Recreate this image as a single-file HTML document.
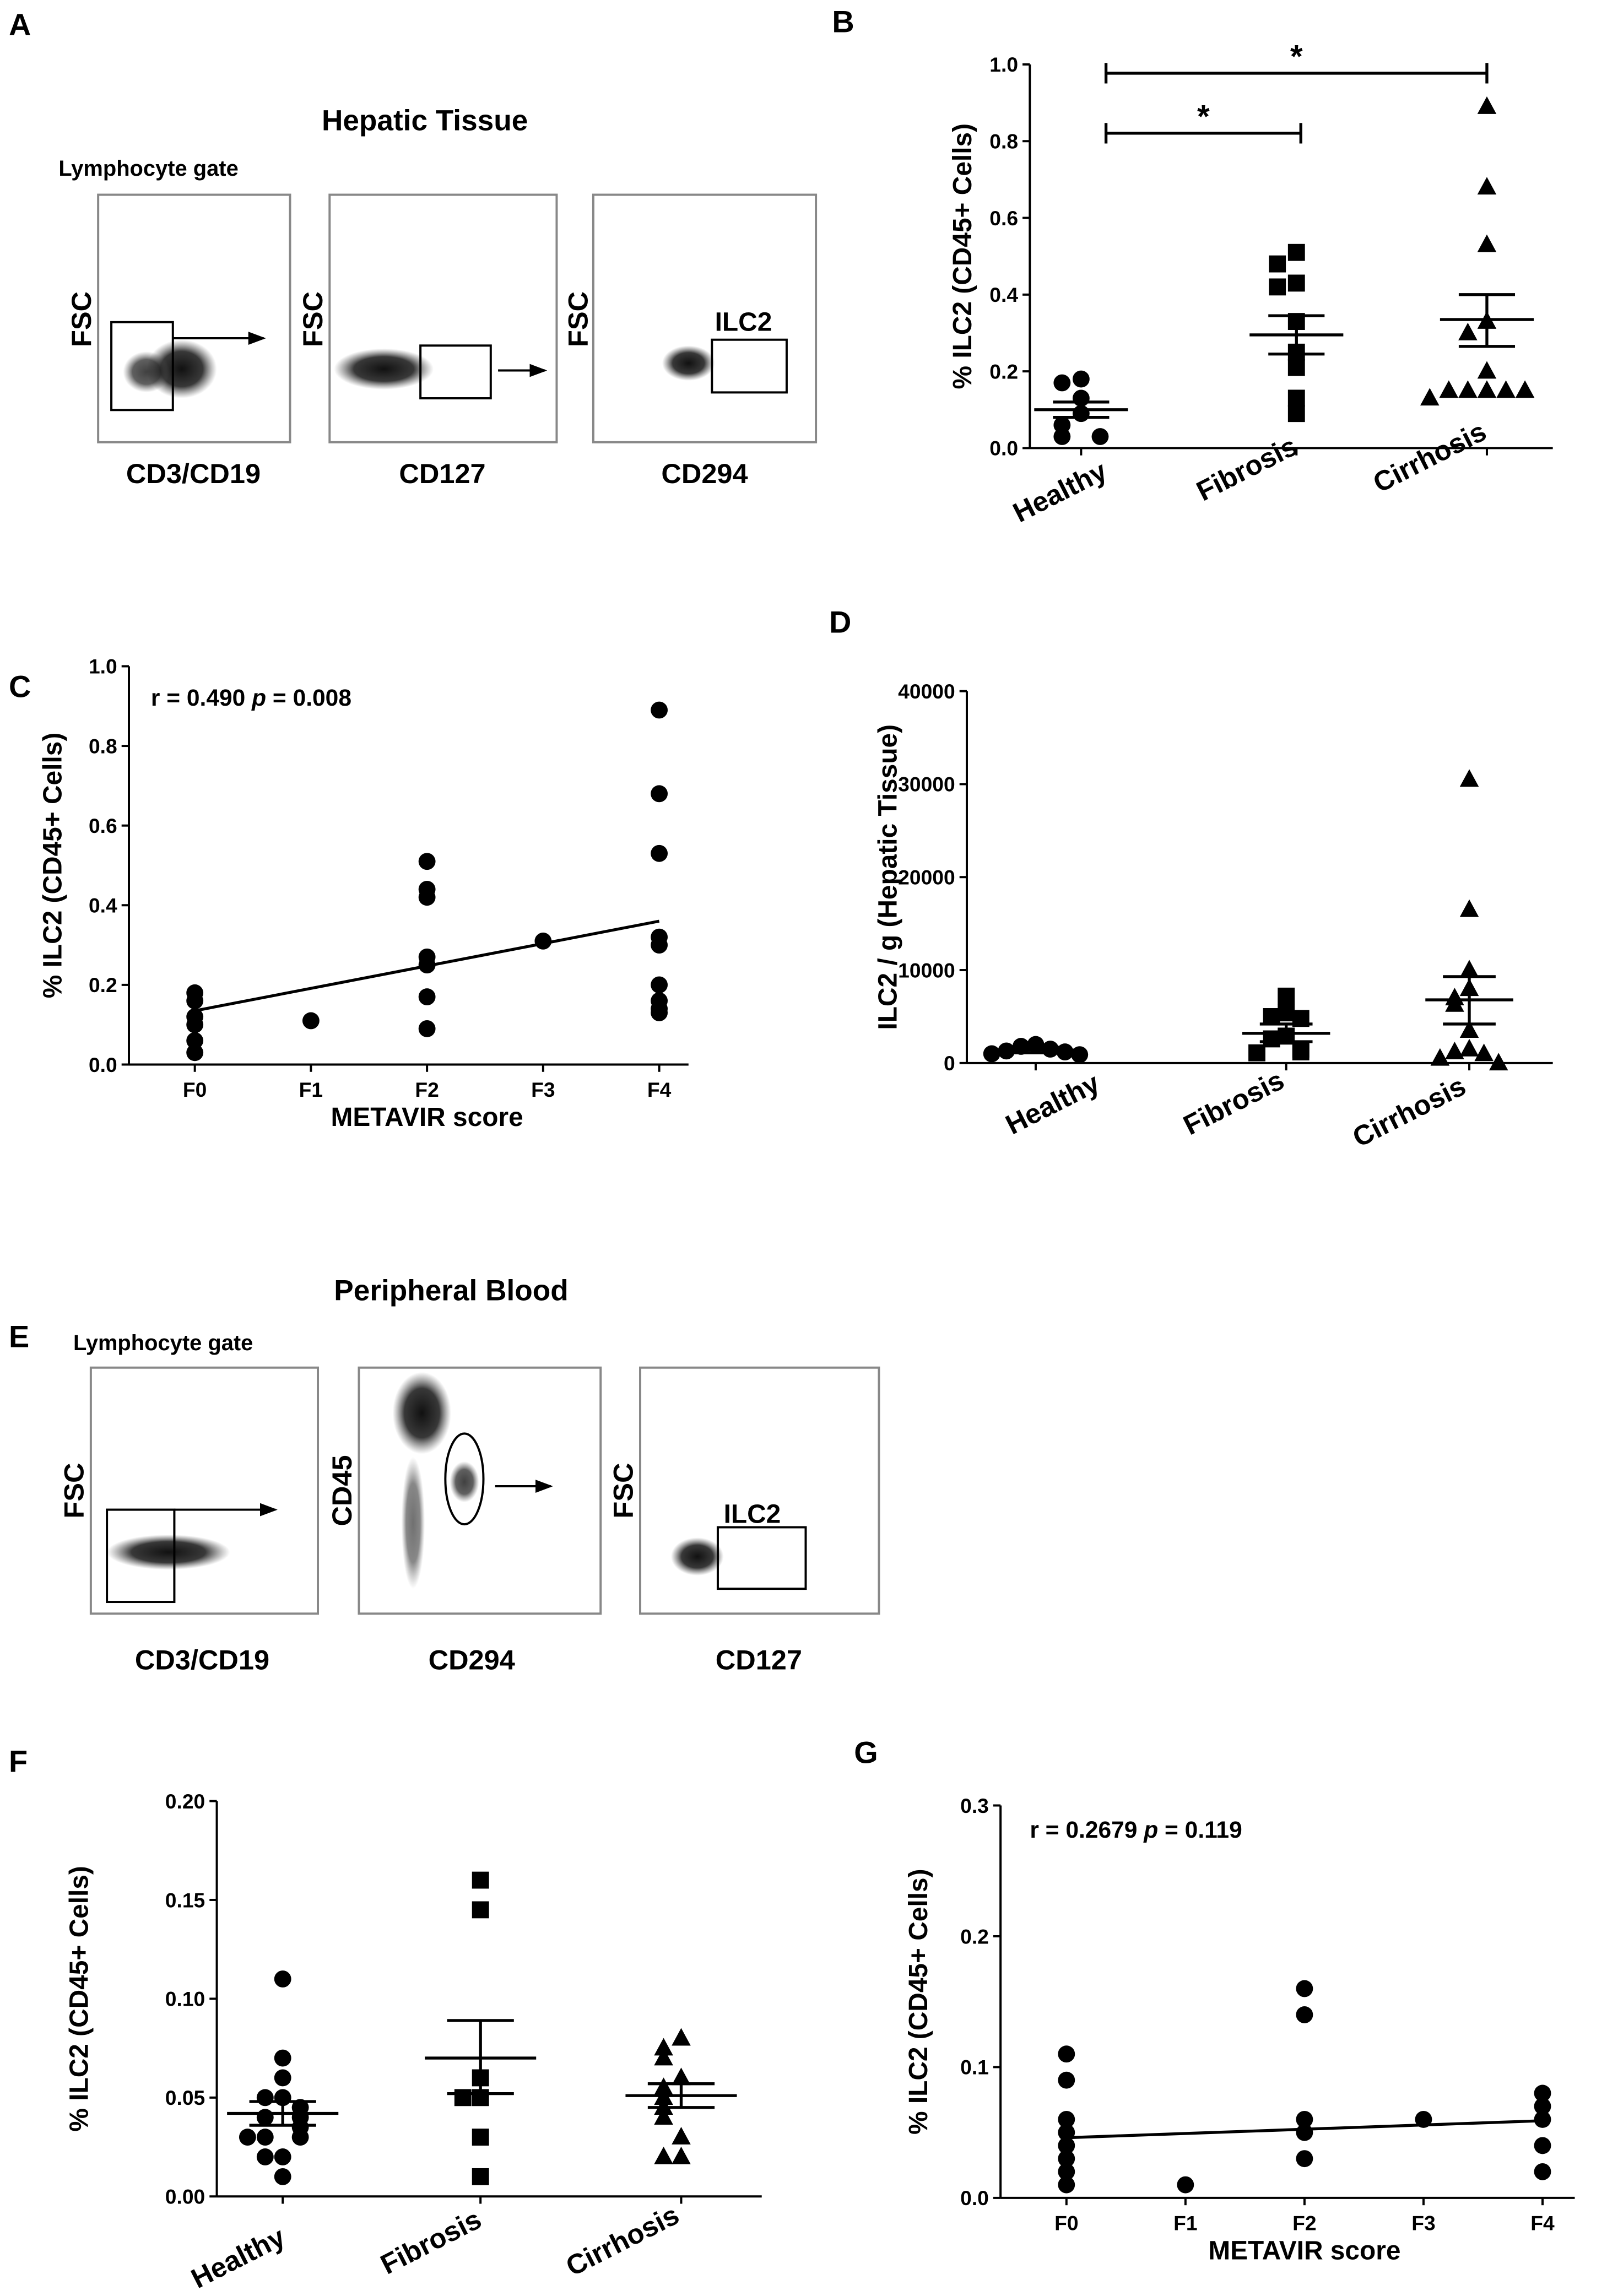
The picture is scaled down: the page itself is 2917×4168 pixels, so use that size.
<!DOCTYPE html>
<html><head><meta charset="utf-8"><style>
html,body{margin:0;padding:0;background:#fff;}
svg{display:block;font-family:"Liberation Sans",Arial,sans-serif;font-weight:bold;}
</style></head><body>
<svg id="fig" width="2917" height="4168" viewBox="0 0 1097 1568" preserveAspectRatio="none" xmlns="http://www.w3.org/2000/svg">
<defs>
<radialGradient id="blob"><stop offset="0" stop-color="#111"/><stop offset="0.6" stop-color="#222" stop-opacity="0.9"/><stop offset="1" stop-color="#555" stop-opacity="0"/></radialGradient>
<marker id="arr" markerWidth="8" markerHeight="8" refX="7" refY="4" orient="auto"><path d="M0,1 L8,4 L0,7 z" fill="#000"/></marker>
</defs>
<text x="6" y="24" font-size="21">A</text>
<text x="568" y="22" font-size="21">B</text>
<text x="6" y="476" font-size="21">C</text>
<text x="566" y="432" font-size="21">D</text>
<text x="6" y="920" font-size="21">E</text>
<text x="6" y="1210" font-size="21">F</text>
<text x="583" y="1204" font-size="21">G</text>

<g>
<text x="290" y="89" font-size="20" text-anchor="middle">Hepatic Tissue</text>
<text x="40" y="120" font-size="15">Lymphocyte  gate</text>
<rect x="67" y="133" width="131" height="169" fill="none" stroke="#888" stroke-width="1.5"/>
<rect x="225" y="133" width="155" height="169" fill="none" stroke="#888" stroke-width="1.5"/>
<rect x="405" y="133" width="152" height="169" fill="none" stroke="#888" stroke-width="1.5"/>
<ellipse cx="124" cy="252" rx="24" ry="20" fill="url(#blob)"/>
<ellipse cx="100" cy="254" rx="16" ry="14" fill="url(#blob)" opacity="0.8"/>
<rect x="76" y="220" width="42" height="60" fill="none" stroke="#000" stroke-width="1.5"/>
<line x1="118" y1="231" x2="180" y2="231" stroke="#000" stroke-width="1.5" marker-end="url(#arr)"/>
<ellipse cx="262" cy="252" rx="34" ry="14" fill="url(#blob)"/>
<rect x="287" y="236" width="48" height="36" fill="none" stroke="#000" stroke-width="1.5"/>
<line x1="340" y1="253" x2="372" y2="253" stroke="#000" stroke-width="1.5" marker-end="url(#arr)"/>
<ellipse cx="470" cy="248" rx="18" ry="12" fill="url(#blob)"/>
<rect x="486" y="232" width="51" height="36" fill="none" stroke="#000" stroke-width="1.5"/>
<text x="488" y="226" font-size="18">ILC2</text>
<text transform="translate(62,218) rotate(-90)" font-size="19" text-anchor="middle">FSC</text>
<text transform="translate(220,218) rotate(-90)" font-size="19" text-anchor="middle">FSC</text>
<text transform="translate(401,218) rotate(-90)" font-size="19" text-anchor="middle">FSC</text>
<text x="132" y="330" font-size="19" text-anchor="middle">CD3/CD19</text>
<text x="302" y="330" font-size="19" text-anchor="middle">CD127</text>
<text x="481" y="330" font-size="19" text-anchor="middle">CD294</text>
</g>

<g>
<text x="308" y="888" font-size="20" text-anchor="middle">Peripheral Blood</text>
<text x="50" y="922" font-size="15">Lymphocyte  gate</text>
<rect x="62" y="934" width="155" height="168" fill="none" stroke="#888" stroke-width="1.5"/>
<rect x="245" y="934" width="165" height="168" fill="none" stroke="#888" stroke-width="1.5"/>
<rect x="437" y="934" width="163" height="168" fill="none" stroke="#888" stroke-width="1.5"/>
<ellipse cx="115" cy="1060" rx="42" ry="12" fill="url(#blob)"/>
<rect x="73" y="1031" width="46" height="63" fill="none" stroke="#000" stroke-width="1.5"/>
<line x1="119" y1="1031" x2="188" y2="1031" stroke="#000" stroke-width="1.5" marker-end="url(#arr)"/>
<ellipse cx="288" cy="965" rx="20" ry="28" fill="url(#blob)"/>
<ellipse cx="282" cy="1040" rx="8" ry="45" fill="url(#blob)" opacity="0.6"/>
<ellipse cx="317" cy="1012" rx="10" ry="14" fill="url(#blob)" opacity="0.8"/>
<ellipse cx="317" cy="1010" rx="13" ry="31" fill="none" stroke="#000" stroke-width="1.5"/>
<line x1="338" y1="1015" x2="376" y2="1015" stroke="#000" stroke-width="1.5" marker-end="url(#arr)"/>
<ellipse cx="476" cy="1063" rx="18" ry="13" fill="url(#blob)"/>
<rect x="490" y="1043" width="60" height="42" fill="none" stroke="#000" stroke-width="1.5"/>
<text x="494" y="1040" font-size="18">ILC2</text>
<text transform="translate(57,1018) rotate(-90)" font-size="19" text-anchor="middle">FSC</text>
<text transform="translate(240,1018) rotate(-90)" font-size="19" text-anchor="middle">CD45</text>
<text transform="translate(432,1018) rotate(-90)" font-size="19" text-anchor="middle">FSC</text>
<text x="138" y="1140" font-size="19" text-anchor="middle">CD3/CD19</text>
<text x="322" y="1140" font-size="19" text-anchor="middle">CD294</text>
<text x="518" y="1140" font-size="19" text-anchor="middle">CD127</text>
</g>
<g id="charts"></g>
</svg>
<script>
const catsGroups = ["Healthy","Fibrosis","Cirrhosis"];
const metavirCats = ["F0","F1","F2","F3","F4"];
const bHealthy = [0.18,0.17,0.13,0.09,0.06,0.03,0.03];
const bFibrosis = [0.51,0.48,0.43,0.42,0.33,0.25,0.21,0.13,0.09];
const bCirrhosis = [0.89,0.68,0.53,0.33,0.30,0.20,0.15,0.15,0.15,0.15,0.15,0.13];
const bMeans = [0.10,0.295,0.335];
const bSemLo = [0.08,0.245,0.265];
const bSemHi = [0.12,0.345,0.40];
const bTicks = ["0.0","0.2","0.4","0.6","0.8","1.0"];
const cF0 = [0.18,0.16,0.12,0.10,0.06,0.03];
const cF1 = [0.11];
const cF2 = [0.51,0.44,0.42,0.27,0.25,0.17,0.09];
const cF3 = [0.31];
const cF4 = [0.89,0.68,0.53,0.32,0.30,0.20,0.16,0.14,0.13];
const cFit = [0.135,0.36];
const dHealthy = [2000,1800,1500,1300,1200,1000,900];
const dFibrosis = [7200,5400,5000,4800,2900,2600,1500,1200,1100];
const dCirrhosis = [30500,16500,10000,8000,7000,6300,3500,1500,1200,1000,500,0];
const dMeans = [1400,3200,6800];
const dSemLo = [1100,2300,4200];
const dSemHi = [1700,4200,9300];
const dTicks = ["0","10000","20000","30000","40000"];
const fHealthy = [0.11,0.07,0.06,0.05,0.05,0.045,0.04,0.04,0.035,0.03,0.03,0.03,0.02,0.02,0.01];
const fFibrosis = [0.16,0.145,0.06,0.05,0.05,0.03,0.01];
const fCirrhosis = [0.08,0.075,0.07,0.06,0.055,0.05,0.045,0.04,0.03,0.02,0.02];
const fMeans = [0.042,0.070,0.051];
const fSemLo = [0.036,0.052,0.045];
const fSemHi = [0.048,0.089,0.057];
const fTicks = ["0.00","0.05","0.10","0.15","0.20"];
const gF0 = [0.11,0.09,0.06,0.05,0.04,0.03,0.02,0.01];
const gF1 = [0.01];
const gF2 = [0.16,0.14,0.06,0.05,0.03];
const gF3 = [0.06];
const gF4 = [0.08,0.07,0.06,0.04,0.02];
const gFit = [0.046,0.059];
const gTicks = ["0.0","0.1","0.2","0.3"];

const NS="http://www.w3.org/2000/svg";
const root=document.getElementById('charts');
function mk(tag,attrs,parent){const e=document.createElementNS(NS,tag);for(const k in attrs)e.setAttribute(k,attrs[k]);(parent||root).appendChild(e);return e;}
function txt(x,y,s,size,anchor,parent,rot){const t=mk('text',{x:x,y:y,'font-size':size,'text-anchor':anchor||'start'},parent);if(rot)t.setAttribute('transform',`rotate(${rot},${x},${y})`);t.textContent=s;return t;}
function marker(shape,x,y,g){
  let e;
  if(shape==='c')e=mk('circle',{cx:x,cy:y,r:5.8,fill:'#000'},g);
  else if(shape==='s')e=mk('rect',{x:x-5.8,y:y-5.8,width:11.6,height:11.6,fill:'#000'},g);
  else e=mk('path',{d:`M${x},${y-7} L${x+6.5},${y+5} L${x-6.5},${y+5} Z`,fill:'#000'},g);
  
  
}
function spread(vals,cx,ys,width){
  const out=[];const used=[];
  vals.forEach((v)=>{
    const py=ys(v);let k=0;
    used.forEach(u=>{if(Math.abs(u-py)<10)k++;});
    used.push(py);
    const off=(k%2===0?1:-1)*Math.ceil(k/2)*width;
    out.push([cx+off,py]);
  });
  return out;
}
function yAxis(g,x,y0,y1,ticks,label,lx){
  mk('line',{x1:x,y1:y0,x2:x,y2:y1,stroke:'#000','stroke-width':1.5},g);
  ticks.forEach((t,i)=>{const y=y0-(y0-y1)*i/(ticks.length-1);
    mk('line',{x1:x-5,y1:y,x2:x,y2:y,stroke:'#000','stroke-width':1.5},g);
    txt(x-8,y+5,t,14,'end',g);});
  const yl=txt(lx,(y0+y1)/2,label,18,'middle',g,-90);
  
  
}
function groupPanel(name,cfg){
  const g=mk('g',{});
  
  
  const ys=v=>cfg.y0-(cfg.y0-cfg.y1)*v/cfg.vmax;
  yAxis(g,cfg.x,cfg.y0,cfg.y1,cfg.ticks,cfg.ylabel,cfg.lx);
  mk('line',{x1:cfg.x,y1:cfg.y0,x2:cfg.xend,y2:cfg.y0,stroke:'#000','stroke-width':1.5},g);
  cfg.series.forEach((s,i)=>{
    const cx=cfg.cx[i];
    mk('line',{x1:cx,y1:cfg.y0,x2:cx,y2:cfg.y0+5,stroke:'#000','stroke-width':1.5},g);
    const lab=txt(cfg.labEnd[i][0],cfg.labEnd[i][1],catsGroups[i],19,'end',g,-27);
    
    
    spread(s,cx,ys,cfg.spw).forEach(p=>marker(cfg.shapes[i],p[0],p[1],g));
    const m=mk('line',{x1:cx-cfg.mw,y1:ys(cfg.means[i]),x2:cx+cfg.mw,y2:ys(cfg.means[i]),stroke:'#000','stroke-width':2},g);
    
    
    mk('line',{x1:cx,y1:ys(cfg.lo[i]),x2:cx,y2:ys(cfg.hi[i]),stroke:'#000','stroke-width':2},g);
    mk('line',{x1:cx-cfg.mw*0.6,y1:ys(cfg.lo[i]),x2:cx+cfg.mw*0.6,y2:ys(cfg.lo[i]),stroke:'#000','stroke-width':2},g);
    mk('line',{x1:cx-cfg.mw*0.6,y1:ys(cfg.hi[i]),x2:cx+cfg.mw*0.6,y2:ys(cfg.hi[i]),stroke:'#000','stroke-width':2},g);
  });
  return g;
}
function scatterPanel(name,cfg){
  const g=mk('g',{});
  
  
  const ys=v=>cfg.y0-(cfg.y0-cfg.y1)*v/cfg.vmax;
  yAxis(g,cfg.x,cfg.y0,cfg.y1,cfg.ticks,cfg.ylabel,cfg.lx);
  mk('line',{x1:cfg.x,y1:cfg.y0,x2:cfg.xend,y2:cfg.y0,stroke:'#000','stroke-width':1.5},g);
  const xs=i=>cfg.xa+(cfg.xb-cfg.xa)*i/(metavirCats.length-1);
  cfg.series.forEach((s,i)=>{
    mk('line',{x1:xs(i),y1:cfg.y0,x2:xs(i),y2:cfg.y0+5,stroke:'#000','stroke-width':1.5},g);
    txt(xs(i),cfg.y0+22,metavirCats[i],14,'middle',g);
    s.forEach(v=>marker('c',xs(i),ys(v),g));
  });
  const fl=mk('line',{x1:xs(0),y1:ys(cfg.fit[0]),x2:xs(4),y2:ys(cfg.fit[1]),stroke:'#000','stroke-width':2},g);
  
  
  txt((cfg.xa+cfg.xb)/2,cfg.y0+42,'METAVIR score',18,'middle',g);
  const st=mk('text',{x:cfg.sx,y:cfg.sy,'font-size':16},g);
  
  
  st.innerHTML=cfg.stat;
}
const gb=groupPanel('panel-b-chart',{x:703,y0:306,y1:44,xend:1060,vmax:1.0,ticks:bTicks,ylabel:'% ILC2 (CD45+ Cells)',lx:663,
  series:[bHealthy,bFibrosis,bCirrhosis],cx:[738,885,1015],shapes:['c','s','t'],means:bMeans,lo:bSemLo,hi:bSemHi,mw:32,spw:13,
  labEnd:[[757,326],[887,309],[1016,299]]});
const sig=(x1,x2,y)=>{mk('line',{x1:x1,y1:y,x2:x2,y2:y,stroke:'#000','stroke-width':2},gb);
  mk('line',{x1:x1,y1:y-7,x2:x1,y2:y+7,stroke:'#000','stroke-width':2},gb);
  mk('line',{x1:x2,y1:y-7,x2:x2,y2:y+7,stroke:'#000','stroke-width':2},gb);
  txt((x1+x2)/2,y-4,'*',22,'middle',gb);};
sig(755,888,91);sig(755,1015,50);
scatterPanel('panel-c-chart',{x:88,y0:727,y1:455,xend:470,vmax:1.0,ticks:bTicks,ylabel:'% ILC2 (CD45+ Cells)',lx:42,
  series:[cF0,cF1,cF2,cF3,cF4],xa:133,xb:450,fit:cFit,sx:103,sy:482,stat:'r = 0.490  <tspan font-style="italic">p</tspan> = 0.008'});
groupPanel('panel-d-chart',{x:660,y0:726,y1:472,xend:1060,vmax:40000,ticks:dTicks,ylabel:'ILC2 / g (Hepatic Tissue)',lx:612,
  series:[dHealthy,dFibrosis,dCirrhosis],cx:[707,878,1003],shapes:['c','s','t'],means:dMeans,lo:dSemLo,hi:dSemHi,mw:30,spw:10,
  labEnd:[[752,744],[878,742],[1002,746]]});
groupPanel('panel-f-chart',{x:148,y0:1500,y1:1230,xend:520,vmax:0.20,ticks:fTicks,ylabel:'% ILC2 (CD45+ Cells)',lx:60,
  series:[fHealthy,fFibrosis,fCirrhosis],cx:[193,328,465],shapes:['c','s','t'],means:fMeans,lo:fSemLo,hi:fSemHi,mw:38,spw:12,
  labEnd:[[196,1532],[330,1520],[465,1517]]});
scatterPanel('panel-g-chart',{x:683,y0:1501,y1:1233,xend:1075,vmax:0.3,ticks:gTicks,ylabel:'% ILC2 (CD45+ Cells)',lx:633,
  series:[gF0,gF1,gF2,gF3,gF4],xa:728,xb:1053,fit:gFit,sx:703,sy:1255,stat:'r = 0.2679  <tspan font-style="italic">p</tspan> = 0.119'});
</script>
</body></html>
